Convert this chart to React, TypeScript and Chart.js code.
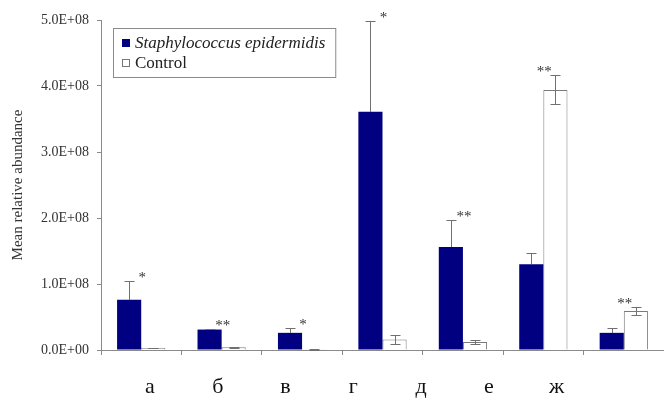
import React, { useEffect, useRef } from 'react';
import { Chart, registerables } from 'chart.js';

Chart.register(...registerables);

// Sample groups and series
const CATEGORIES = ['а', 'б', 'в', 'г', 'д', 'е', 'ж'];
const SERIES_NAMES = ['Staphylococcus epidermidis', 'Control'];

// Mean relative abundance per group
const STAPH_VALUES = [7.6e7, 3.1e7, 2.6e7, 3.61e8, 1.56e8, 1.3e8, 2.6e7];
const STAPH_ERRORS = [2.8e7, 0.1e7, 0.8e7, 1.37e8, 4.1e7, 1.7e7, 0.7e7];
const CONTROL_VALUES = [0.3e7, 0.4e7, 0.1e7, 1.6e7, 1.2e7, 3.94e8, 5.9e7];
const CONTROL_ERRORS = [0.05e7, 0.1e7, 0.05e7, 0.7e7, 0.3e7, 2.2e7, 0.6e7];

// Significance marks per group
const SIGNIFICANCE = ['*', '**', '*', '*', '**', '**', '**'];

// Y axis range
const Y_MIN = 0;
const Y_MAX = 5e8;
const Y_STEP = 1e8;

const SERIF = '"Liberation Serif", "Times New Roman", serif';
const AXIS_GREY = '#8a8a8a';
const NAVY = '#000080';

function sci(v: number): string {
  if (v === 0) return '0.0E+00';
  const exp = Math.floor(Math.log10(Math.abs(v)));
  const mant = v / Math.pow(10, exp);
  const sign = exp < 0 ? '-' : '+';
  return mant.toFixed(1) + 'E' + sign + String(Math.abs(exp)).padStart(2, '0');
}

// Error bars: 'plus' draws the upper whisker only, 'both' draws up and down
const errorBarPlugin = {
  id: 'errorBars',
  afterDatasetsDraw(chart: any) {
    const { ctx } = chart;
    const y = chart.scales.y;
    chart.data.datasets.forEach((ds: any, d: number) => {
      const meta = chart.getDatasetMeta(d);
      ctx.save();
      ctx.strokeStyle = '#707070';
      ctx.lineWidth = 1;
      meta.data.forEach((el: any, i: number) => {
        const v = ds.data[i];
        const e = ds.errors[i];
        const top = Math.round(y.getPixelForValue(v + e)) + 0.5;
        const bottom = ds.errorDir === 'both' ? Math.round(y.getPixelForValue(v - e)) + 0.5 : Math.round(y.getPixelForValue(v));
        const x = Math.round(el.x) + 0.5;
        ctx.beginPath();
        ctx.moveTo(x, top);
        ctx.lineTo(x, bottom);
        ctx.moveTo(x - 5, top);
        ctx.lineTo(x + 5, top);
        if (ds.errorDir === 'both') {
          ctx.moveTo(x - 5, bottom);
          ctx.lineTo(x + 5, bottom);
        }
        ctx.stroke();
      });
      ctx.restore();
    });
  },
};

// Asterisks above each group
const significancePlugin = {
  id: 'significance',
  afterDatasetsDraw(chart: any) {
    const { ctx } = chart;
    const x = chart.scales.x;
    const y = chart.scales.y;
    ctx.save();
    ctx.font = `15px ${SERIF}`;
    ctx.fillStyle = '#333';
    ctx.textAlign = 'center';
    ctx.textBaseline = 'alphabetic';
    SIGNIFICANCE.forEach((mark, i) => {
      const tops = chart.data.datasets.map((ds: any) => y.getPixelForValue(ds.data[i] + ds.errors[i]));
      const top = Math.min(...tops);
      ctx.fillText(mark, x.getPixelForValue(i) + 1, top + 1);
    });
    ctx.restore();
  },
};

// Boxed legend in the upper-left of the plot
const boxLegendPlugin = {
  id: 'boxLegend',
  afterDraw(chart: any) {
    const { ctx, chartArea } = chart;
    const left = chartArea.left + 12;
    const top = chartArea.top + 8;
    const rowH = 20;
    const sw = 8;
    ctx.save();
    ctx.font = `italic 17px ${SERIF}`;
    const w1 = ctx.measureText(chart.data.datasets[0].label).width;
    ctx.font = `17px ${SERIF}`;
    const w2 = ctx.measureText(chart.data.datasets[1].label).width;
    const boxW = 22 + Math.max(w1, w2) + 10;
    const boxH = rowH * 2 + 9;
    ctx.fillStyle = '#fff';
    ctx.fillRect(left, top, boxW, boxH);
    ctx.strokeStyle = AXIS_GREY;
    ctx.lineWidth = 1;
    ctx.strokeRect(left + 0.5, top + 0.5, boxW, boxH);
    chart.data.datasets.forEach((ds: any, d: number) => {
      const cy = top + 15 + d * rowH;
      ctx.fillStyle = ds.backgroundColor;
      ctx.fillRect(left + 9, cy - sw / 2, sw, sw);
      ctx.strokeStyle = d === 0 ? NAVY : '#777';
      ctx.strokeRect(left + 9.5, cy - sw / 2 + 0.5, sw - 1, sw - 1);
      ctx.fillStyle = '#222';
      ctx.font = d === 0 ? `italic 17px ${SERIF}` : `17px ${SERIF}`;
      ctx.textAlign = 'left';
      ctx.textBaseline = 'middle';
      ctx.fillText(ds.label, left + 22, cy + 1);
    });
    ctx.restore();
  },
};

// Group letters under the axis
const letterPlugin = {
  id: 'groupLetters',
  afterDraw(chart: any) {
    const { ctx, chartArea } = chart;
    const w = chartArea.right - chartArea.left;
    ctx.save();
    ctx.font = `22px ${SERIF}`;
    ctx.fillStyle = '#111';
    ctx.textAlign = 'center';
    ctx.textBaseline = 'alphabetic';
    CATEGORIES.forEach((c, i) => {
      ctx.fillText(c, chartArea.left + w * (0.087 + i * 0.1204), chartArea.bottom + 43);
    });
    ctx.restore();
  },
};

export default function App() {
  const canvasRef = useRef<HTMLCanvasElement | null>(null);

  useEffect(() => {
    const canvas = canvasRef.current;
    if (!canvas) return;
    const chart = new Chart(canvas, {
      type: 'bar',
      data: {
        labels: CATEGORIES,
        datasets: [
          {
            label: SERIES_NAMES[0],
            data: STAPH_VALUES,
            errors: STAPH_ERRORS,
            errorDir: 'plus',
            backgroundColor: NAVY,
            borderColor: NAVY,
            borderWidth: 0,
          } as any,
          {
            label: SERIES_NAMES[1],
            data: CONTROL_VALUES,
            errors: CONTROL_ERRORS,
            errorDir: 'both',
            backgroundColor: '#ffffff',
            borderColor: '#7a7a7a',
            borderWidth: 1,
          } as any,
        ],
      },
      options: {
        responsive: false,
        animation: false,
        layout: { padding: { top: 20, left: 0, right: 0, bottom: 0 } },
        datasets: {
          bar: { categoryPercentage: 0.6, barPercentage: 1.0 },
        },
        plugins: {
          legend: { display: false },
          tooltip: { enabled: false },
        },
        scales: {
          x: {
            grid: {
              display: true,
              drawOnChartArea: false,
              drawTicks: true,
              tickLength: 5,
              color: AXIS_GREY,
              tickColor: AXIS_GREY,
            },
            border: { display: true, color: AXIS_GREY },
            ticks: { display: false },
            afterFit(scale: any) {
              scale.height = 58;
            },
          },
          y: {
            min: Y_MIN,
            max: Y_MAX,
            grid: {
              display: true,
              drawOnChartArea: false,
              drawTicks: true,
              tickLength: 4,
              color: AXIS_GREY,
              tickColor: AXIS_GREY,
            },
            border: { display: true, color: AXIS_GREY },
            ticks: {
              stepSize: Y_STEP,
              padding: 8,
              color: '#333',
              font: { family: SERIF, size: 14 },
              callback: (v: any) => sci(Number(v)),
            },
            title: {
              display: true,
              text: 'Mean relative abundance',
              color: '#333',
              font: { family: SERIF, size: 15 },
              padding: { top: 9, bottom: 0 },
            },
            afterFit(scale: any) {
              scale.width = 101;
            },
          },
        },
      },
      plugins: [errorBarPlugin, significancePlugin, boxLegendPlugin, letterPlugin],
    } as any);
    return () => chart.destroy();
  }, []);

  return (
    <div style={{ position: 'fixed', left: 0, top: 0, width: 664, height: 408, background: '#fff' }}>
      <canvas ref={canvasRef} width={664} height={408} style={{ display: 'block' }} />
    </div>
  );
}
